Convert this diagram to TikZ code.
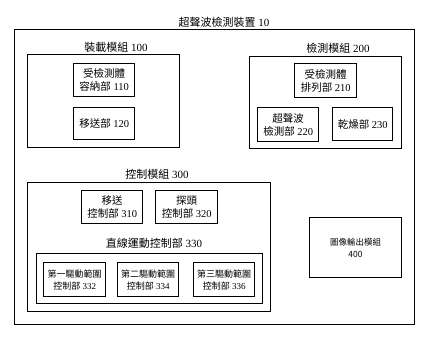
\documentclass[tikz,border=0pt]{standalone}
\usepackage{fontspec}
\setmainfont{Liberation Serif}
\newfontfamily\cjk{Noto Sans CJK TC}
\begin{document}
\begin{tikzpicture}[x=1pt,y=-1pt,
  frame/.style={draw, line width=0.8pt, inner sep=0pt, anchor=north west},
  group/.style={draw, line width=0.9pt, inner sep=0pt, anchor=north west},
  unit/.style={draw, line width=1.4pt, inner sep=0pt, anchor=north west, align=center, font=\fontsize{10.5}{13}\selectfont},
  subunit/.style={draw, line width=1.4pt, inner sep=0pt, anchor=north west, align=center, font=\fontsize{9}{12}\selectfont},
  lbl/.style={font=\fontsize{11}{13}\selectfont, inner sep=0pt}
]
\useasboundingbox (0,0) rectangle (429,340);
% outer device
\node[frame, minimum width=400pt, minimum height=295pt] (dev) at (14,29) {};
\node[lbl] (devl) at (224,22) {{\cjk 超聲波檢測裝置} 10};
% module 100
\node[group, minimum width=152pt, minimum height=93pt] (m100) at (27,54) {};
\node[lbl] (m100l) at (116,47) {{\cjk 裝載模組} 100};
\node[unit, minimum width=61pt, minimum height=33pt] (u110) at (73,63) {{\cjk 受檢測體}\\{\cjk 容納部} 110};
\node[unit, minimum width=61pt, minimum height=32pt] (u120) at (73,107) {{\cjk 移送部} 120};
% module 200
\node[group, minimum width=152pt, minimum height=92pt] (m200) at (249,56) {};
\node[lbl] (m200l) at (338,48) {{\cjk 檢測模組} 200};
\node[unit, minimum width=62pt, minimum height=34pt] (u210) at (294,63) {{\cjk 受檢測體}\\{\cjk 排列部} 210};
\node[unit, minimum width=61pt, minimum height=34pt] (u220) at (257,107) {{\cjk 超聲波}\\{\cjk 檢測部} 220};
\node[unit, minimum width=60pt, minimum height=33pt] (u230) at (332,107) {{\cjk 乾燥部} 230};
% module 300
\node[group, minimum width=243pt, minimum height=129pt] (m300) at (27,182) {};
\node[lbl] (m300l) at (157,174) {{\cjk 控制模組} 300};
\node[unit, minimum width=61pt, minimum height=33pt] (u310) at (81,190) {{\cjk 移送}\\{\cjk 控制部} 310};
\node[unit, minimum width=62pt, minimum height=33pt] (u320) at (155,190) {{\cjk 探頭}\\{\cjk 控制部} 320};
\node[lbl] (u330l) at (154,243) {{\cjk 直線運動控制部} 330};
\node[group, line width=1.1pt, minimum width=226pt, minimum height=50pt] (u330) at (36,253) {};
\node[subunit, minimum width=62pt, minimum height=34pt] (u332) at (43,262) {{\cjk 第一驅動範圍}\\{\cjk 控制部} 332};
\node[subunit, minimum width=61pt, minimum height=34pt] (u334) at (117,262) {{\cjk 第二驅動範圍}\\{\cjk 控制部} 334};
\node[subunit, minimum width=61pt, minimum height=34pt] (u336) at (193,262) {{\cjk 第三驅動範圍}\\{\cjk 控制部} 336};
% module 400
\node[draw, line width=1.1pt, inner sep=0pt, anchor=north west, align=center, font=\cjk\fontsize{8.5}{12}\selectfont, minimum width=92pt, minimum height=60pt] (m400) at (309,217) {圖像輸出模組\\400};
\end{tikzpicture}
\end{document}
